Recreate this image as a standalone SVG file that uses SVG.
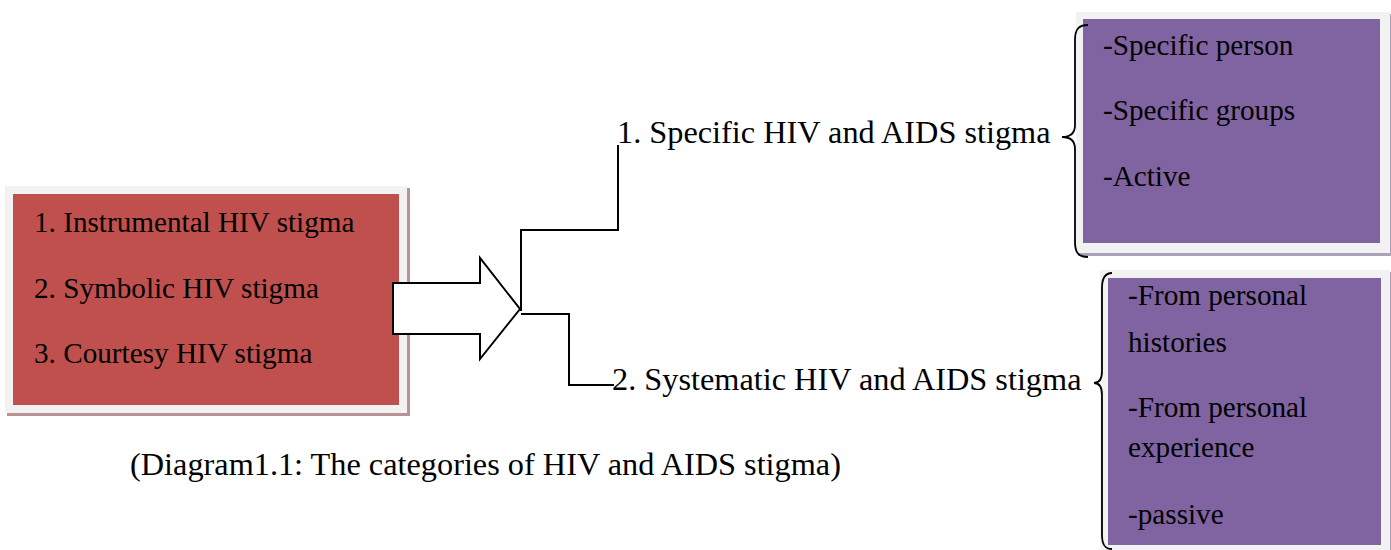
<svg xmlns="http://www.w3.org/2000/svg" width="1391" height="550" viewBox="0 0 1391 550">
<style>
text{font-family:"Liberation Serif","Times New Roman",serif;font-size:29.2px;fill:#000}
text.big{font-size:32.3px}
.frame{fill:#f2f2f2}
.line{fill:none;stroke:#000;stroke-width:2}
.brace{fill:none;stroke:#000;stroke-width:1.8}
</style>
<rect width="1391" height="550" fill="#fff"/>
<g id="left-box">
<rect x="7" y="188" width="403" height="228" fill="#b89494"/>
<rect class="frame" x="5" y="186" width="402" height="227"/>
<rect x="13" y="194" width="386" height="211" fill="#C0504D"/>
<text x="34" y="232">1. Instrumental HIV stigma</text>
<text x="34" y="298">2. Symbolic HIV stigma</text>
<text x="34" y="363">3. Courtesy HIV stigma</text>
</g>
<g id="block-arrow">
<polygon points="393,283 480,283 480,258 520,309 480,359 480,334 393,334" fill="#fff" stroke="#000" stroke-width="2"/>
</g>
<g id="connectors">
<polyline class="line" points="521,311 521,230 618,230 618,145"/>
<polyline class="line" points="521,314 569,314 569,385 614,385"/>
</g>
<g id="cat1">
<text class="big" x="617" y="143">1. Specific HIV and AIDS stigma</text>
</g>
<g id="cat2">
<text class="big" x="612" y="390">2. Systematic HIV and AIDS stigma</text>
</g>
<g id="box1">
<rect x="1078" y="14" width="313" height="242" fill="#aaa2b8"/>
<rect class="frame" x="1076" y="12" width="314" height="241"/>
<rect x="1083" y="19" width="297" height="224" fill="#8064A2"/>
<text x="1103" y="55">-Specific person</text>
<text x="1103" y="120">-Specific groups</text>
<text x="1103" y="186">-Active</text>
</g>
<g id="brace1">
<path class="brace" d="M1088,25 C1078,25 1075,30 1075,40 L1075,125 C1075,133 1070,137 1062,137 C1070,137 1075,141 1075,149 L1075,242 C1075,252 1078,257 1088,257"/>
</g>
<g id="box2">
<rect x="1102" y="272" width="289" height="278" fill="#aaa2b8"/>
<rect class="frame" x="1100" y="270" width="290" height="280"/>
<rect x="1108" y="278" width="273" height="267" fill="#8064A2"/>
<text x="1128" y="305">-From personal</text>
<text x="1128" y="352">histories</text>
<text x="1128" y="417">-From personal</text>
<text x="1128" y="457">experience</text>
<text x="1128" y="524">-passive</text>
</g>
<g id="brace2">
<path class="brace" d="M1112,273 C1105,273 1102,278 1102,288 L1102,371 C1102,379 1099,383 1094,383 C1099,383 1102,387 1102,395 L1102,535 C1102,545 1105,549 1112,549"/>
</g>
<g id="caption">
<text class="big" x="130" y="475">(Diagram1.1: The categories of HIV and AIDS stigma)</text>
</g>
</svg>
